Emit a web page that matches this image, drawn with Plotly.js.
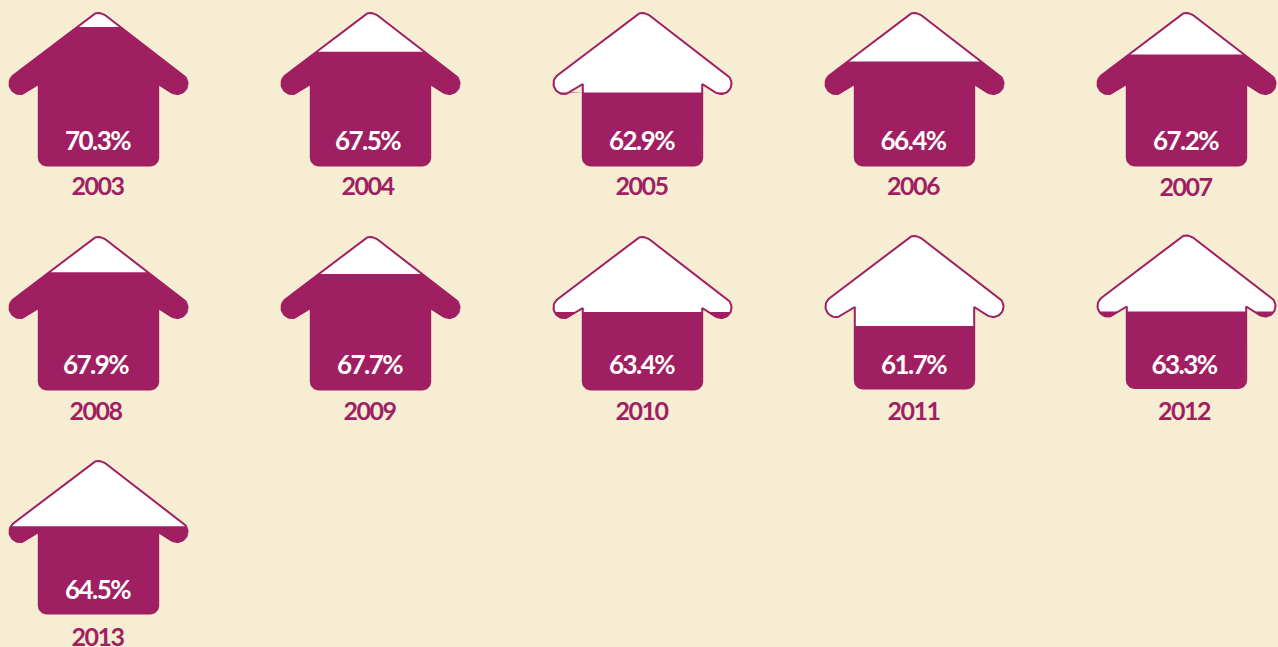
<!DOCTYPE html>
<html><head><meta charset="utf-8">
<script src="https://cdn.plot.ly/plotly-3.0.1.min.js"></script>
<style>html,body{margin:0;padding:0;background:#F7EDD3;overflow:hidden}
.textpoint text{letter-spacing:-1.5px}</style></head>
<body><div id="chart" style="width:1278px;height:647px"></div>
<script>
// data
const years = ['2003','2004','2005','2006','2007','2008','2009','2010','2011','2012','2013'];
const values = [70.3,67.5,62.9,66.4,67.2,67.9,67.7,63.4,61.7,63.3,64.5];

// style and layout
const PURPLE='#A01F63', BG='#F7EDD3', FONT='Lato,"Noto Sans",sans-serif';
const W=1278,H=647, colX=[98.5,370.5,642.5,914.5,1186.5], rowTop=[12,236,460];
const nudge=[0,0,0,0,0,0,0,0,-1,-1.5,0];
const labelDx=[-1,-3,-1,-1.5,-1,-3,-1,-1,-1,-2.5,-1];
const pctY=[131,131,131,131,131,131,131,131,132,132.5,132];
const yearY=[177,177,177,177,177.5,178,178,178,179,179.5,180];
const HW=91, PADT=8, PADB=186;
// icon scale: px below the apex of the icon <-> percent
const PX_PER_PCT=8.84, v=p=>70.3-(p-15)/PX_PER_PCT;

function arc(cx,cy,r,a0,a1,n=14){const o=[];for(let i=0;i<=n;i++){const a=a0+(a1-a0)*i/n;o.push([cx+r*Math.cos(a),cy+r*Math.sin(a)]);}return o;}
const T=Math.atan(0.78); // roof slope
// house outline in px relative to the apex
function outline(){
  const pts=[], B=59.7, n=Math.PI/2-T;
  pts.push(...arc(-B+8,145.5,8,Math.PI/2,Math.PI,8));
  pts.push([-B,72]);
  pts.push(...arc(-78.5,71.5,10.5,n,n+Math.PI,24));
  pts.push(...arc(0,12,11,n+Math.PI,2*Math.PI-n,16));
  pts.push(...arc(78.5,71.5,10.5,2*Math.PI-n,3*Math.PI-n,24));
  pts.push([B,72]);
  pts.push(...arc(B-8,145.5,8,0,Math.PI/2,8));
  return pts;
}
const shape=outline();
function clipBelow(pts,lev){ // keep the part with p >= lev
  const o=[];
  for(let i=0;i<pts.length;i++){
    const a=pts[i],b=pts[(i+1)%pts.length];
    const ai=a[1]>=lev,bi=b[1]>=lev;
    if(ai)o.push(a);
    if(ai!==bi){const t=(lev-a[1])/(b[1]-a[1]);o.push([a[0]+t*(b[0]-a[0]),lev]);}
  }
  return o;
}
const traces=[],layout={width:W,height:H,margin:{l:0,r:0,t:0,b:0},paper_bgcolor:BG,plot_bgcolor:'rgba(0,0,0,0)',showlegend:false,hovermode:false};
years.forEach((yr,i)=>{
  const k=i+1, s=k===1?'':k, cx=colX[i%5], top=rowTop[Math.floor(i/5)]+nudge[i];
  layout['xaxis'+s]={domain:[(cx-HW)/W,(cx+HW)/W],range:[-HW,HW],visible:false,fixedrange:true,anchor:'y'+s};
  layout['yaxis'+s]={domain:[1-(top+PADB)/H,1-(top-PADT)/H],range:[v(PADB),v(-PADT)],visible:false,fixedrange:true,anchor:'x'+s};
  const ax={xaxis:'x'+s,yaxis:'y'+s};
  const closed=shape.concat([shape[0]]);
  traces.push({...ax,type:'scatter',mode:'lines',x:closed.map(p=>p[0]),y:closed.map(p=>v(p[1])),fill:'toself',fillcolor:'#FFFFFF',line:{color:PURPLE,width:2},hoverinfo:'skip'});
  const level=15+(70.3-values[i])*PX_PER_PCT;
  const c=clipBelow(shape,level);
  traces.push({...ax,type:'scatter',mode:'lines',x:c.map(p=>p[0]),y:c.map(p=>v(p[1])),fill:'toself',fillcolor:PURPLE,line:{width:0,color:PURPLE},hoverinfo:'skip'});
  traces.push({...ax,type:'scatter',mode:'text',x:[labelDx[i]],y:[v(pctY[i])],text:[values[i].toFixed(1)+'%'],textposition:'middle center',cliponaxis:false,textfont:{family:FONT,size:26,color:'#FFFFFF',weight:700},hoverinfo:'skip'});
  traces.push({...ax,type:'scatter',mode:'text',x:[labelDx[i]],y:[v(yearY[i])],text:[yr],textposition:'middle center',cliponaxis:false,textfont:{family:FONT,size:25,color:PURPLE,weight:700},hoverinfo:'skip'});
});
Plotly.newPlot('chart',traces,layout,{staticPlot:true,displayModeBar:false});
</script></body></html>
